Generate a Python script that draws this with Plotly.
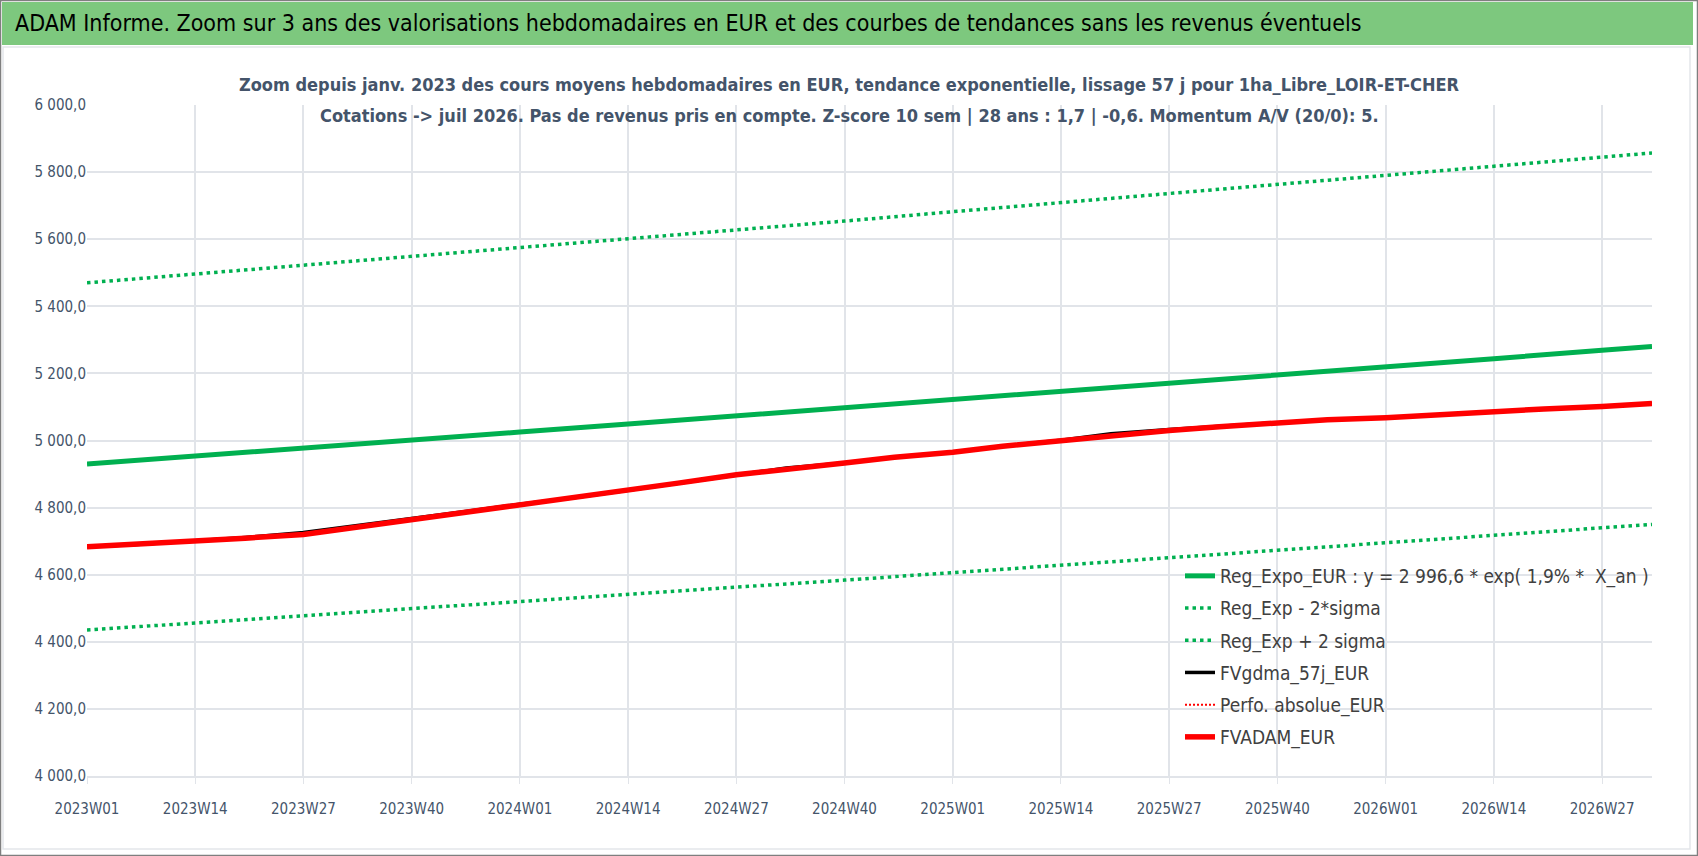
import plotly.graph_objects as go

# --- weekly categories on the x axis (ISO weeks) ---
weeks = [f"{y}W{w:02d}" for y, n in ((2023, 52), (2024, 52), (2025, 52), (2026, 33)) for w in range(1, n + 1)]
tick_weeks = ["2023W01", "2023W14", "2023W27", "2023W40",
              "2024W01", "2024W14", "2024W27", "2024W40",
              "2025W01", "2025W14", "2025W27", "2025W40",
              "2026W01", "2026W14", "2026W27"]

# --- trend curves (read every 13 weeks) ---
trend_weeks = ["2023W01", "2023W14", "2023W27", "2023W40",
               "2024W01", "2024W14", "2024W27", "2024W40",
               "2025W01", "2025W14", "2025W27", "2025W40",
               "2026W01", "2026W14", "2026W27", "2026W33"]
reg_expo = [4930, 4953, 4977, 5001, 5025, 5049, 5073, 5097,
            5121, 5146, 5170, 5195, 5219, 5244, 5269, 5280]
reg_minus = [4435, 4456, 4477, 4498, 4520, 4541, 4563, 4584,
             4606, 4628, 4650, 4672, 4694, 4716, 4739, 4750]
reg_plus = [5470, 5496, 5522, 5548, 5575, 5601, 5628, 5654,
            5682, 5709, 5736, 5763, 5791, 5818, 5845, 5857]

# --- valuations (read about every 6 weeks) ---
val_weeks = ["2023W01", "2023W07", "2023W14", "2023W20", "2023W27", "2023W33", "2023W40", "2023W46",
             "2024W01", "2024W07", "2024W14", "2024W20", "2024W27", "2024W33", "2024W40", "2024W46",
             "2025W01", "2025W07", "2025W14", "2025W20", "2025W27", "2025W33", "2025W40", "2025W46",
             "2026W01", "2026W07", "2026W14", "2026W20", "2026W27", "2026W33"]
fvadam = [4683, 4690, 4700, 4709, 4720, 4740, 4766, 4786,
          4810, 4828, 4852, 4873, 4898, 4916, 4933, 4950,
          4965, 4983, 5000, 5016, 5030, 5041, 5053, 5062,
          5068, 5077, 5086, 5094, 5101, 5110]
fvgdma = [4683, 4690, 4701, 4711, 4726, 4746, 4768, 4787,
          4810, 4828, 4852, 4873, 4898, 4918, 4933, 4950,
          4965, 4983, 5001, 5020, 5033, 5042, 5053, 5062,
          5068, 5077, 5086, 5094, 5101, 5110]
perfo = fvadam

y_ticks = [4000, 4200, 4400, 4600, 4800, 5000, 5200, 5400, 5600, 5800, 6000]

# --- pixel helpers for the decorations around the plot ---
W, H = 1698, 856
L, R, T, B = 87, 1652, 105, 776


def px(x):
    return (x - L) / (R - L)


def py(y):
    return (B - y) / (B - T)


FONT = "Liberation Sans Narrow, DejaVu Sans Condensed, Arial Narrow, sans-serif"
TXT = "#44546A"

fig = go.Figure()
fig.add_trace(go.Scatter(x=trend_weeks, y=reg_expo, mode="lines", legendgroup="a",
                         name="Reg_Expo_EUR : y = 2 996,6 * exp( 1,9% *  X_an )",
                         line=dict(color="#00B050", width=5)))
fig.add_trace(go.Scatter(x=trend_weeks, y=reg_minus, mode="lines", legendgroup="b",
                         name="Reg_Exp - 2*sigma",
                         line=dict(color="#00B050", width=3.5, dash="3.5px,4px")))
fig.add_trace(go.Scatter(x=trend_weeks, y=reg_plus, mode="lines", legendgroup="c",
                         name="Reg_Exp + 2 sigma",
                         line=dict(color="#00B050", width=3.5, dash="3.5px,4px")))
fig.add_trace(go.Scatter(x=val_weeks, y=fvgdma, mode="lines", legendgroup="d",
                         name="FVgdma_57j_EUR",
                         line=dict(color="#000000", width=3.5)))
fig.add_trace(go.Scatter(x=val_weeks, y=perfo, mode="lines", legendgroup="e",
                         name="Perfo. absolue_EUR",
                         line=dict(color="#FF0000", width=2, dash="2px,2px")))
fig.add_trace(go.Scatter(x=val_weeks, y=fvadam, mode="lines", legendgroup="f",
                         name="FVADAM_EUR",
                         line=dict(color="#FF0000", width=5.5)))

shapes = [
    # outer frame
    dict(type="rect", xref="paper", yref="paper", x0=px(0.5), x1=px(W - 0.5), y0=py(H - 0.5), y1=py(0.5),
         line=dict(color="#7F7F7F", width=1.5), layer="below"),
    # green banner
    dict(type="rect", xref="paper", yref="paper", x0=px(2), x1=px(1693), y0=py(45), y1=py(2),
         fillcolor="#7DC87E", line=dict(width=0), layer="below"),
    # chart box
    dict(type="rect", xref="paper", yref="paper", x0=px(3), x1=px(1690), y0=py(849), y1=py(47),
         line=dict(color="#E3E6EA", width=1.5), layer="below"),
]

annotations = [
    dict(text="ADAM Informe. Zoom sur 3 ans des valorisations hebdomadaires en EUR et des courbes de tendances sans les revenus éventuels",
         xref="paper", yref="paper", x=px(13), y=py(23), xanchor="left", yanchor="middle",
         showarrow=False, font=dict(family=FONT, size=23, color="#000000")),
    dict(text="<b>Zoom depuis janv. 2023 des cours moyens hebdomadaires en EUR, tendance exponentielle, lissage 57 j pour 1ha_Libre_LOIR-ET-CHER</b>",
         xref="paper", yref="paper", x=px(849), y=py(84), xanchor="center", yanchor="middle",
         showarrow=False, font=dict(family=FONT, size=18, color=TXT)),
    dict(text="<b>Cotations -> juil 2026. Pas de revenus pris en compte. Z-score 10 sem | 28 ans : 1,7 | -0,6. Momentum A/V (20/0): 5.</b>",
         xref="paper", yref="paper", x=px(849), y=py(115), xanchor="center", yanchor="middle",
         showarrow=False, font=dict(family=FONT, size=18, color=TXT)),
]

fig.update_layout(
    width=W, height=H,
    margin=dict(l=L, r=W - R, t=T, b=H - B),
    paper_bgcolor="white", plot_bgcolor="white",
    separators=", ",
    shapes=shapes,
    annotations=annotations,
    showlegend=True,
    legend=dict(x=px(1180), y=py(557), xanchor="left", yanchor="top",
                bgcolor="rgba(0,0,0,0)", tracegroupgap=4.5,
                font=dict(family=FONT, size=19, color="#404040")),
    xaxis=dict(type="category", categoryorder="array", categoryarray=weeks,
               range=[0, len(weeks) - 1],
               tickmode="array", tickvals=tick_weeks, ticktext=tick_weeks,
               showgrid=True, gridcolor="#E1E4E9", gridwidth=1.5,
               ticks="outside", ticklen=6, tickcolor="#E1E4E9", ticklabelstandoff=12,
               showline=True, linecolor="#E1E4E9", linewidth=1.5,
               tickfont=dict(family=FONT, size=15, color=TXT), zeroline=False),
    yaxis=dict(range=[4000, 6000], tickmode="array", tickvals=y_ticks,
               tickformat=",.1f", showgrid=True, gridcolor="#E1E4E9", gridwidth=1.5,
               tickfont=dict(family=FONT, size=15, color=TXT), zeroline=False,
               ticks="", showline=False),
)

# the page body has a default margin; drop it so the figure fills the window
fig.write_html("out.html", config={"displayModeBar": False},
               post_script="document.body.style.margin='0';")
